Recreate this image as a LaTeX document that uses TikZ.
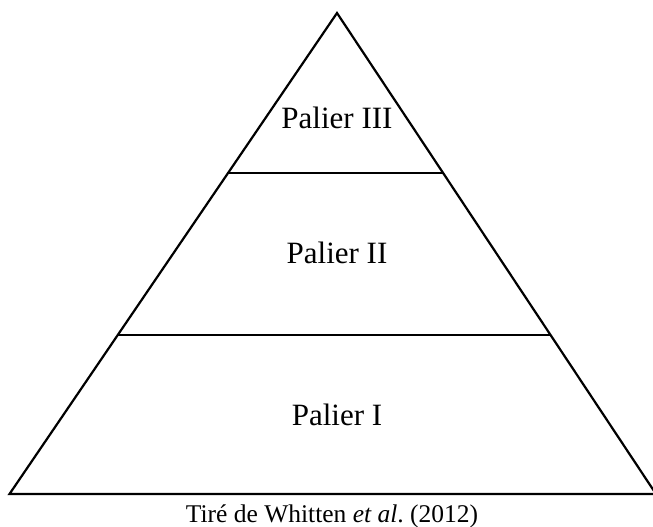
\documentclass[tikz,border=0pt]{standalone}
\usepackage{fontspec}
\setmainfont{Liberation Serif}
\usetikzlibrary{calc}
\begin{document}
\begin{tikzpicture}[x=1pt,y=-1pt,
    edge/.style={draw=black,line width=2.2pt,line join=miter},
    tier/.style={anchor=base,inner sep=0pt,font=\fontsize{31}{36}\selectfont},
    source/.style={anchor=base,inner sep=0pt,font=\fontsize{25.5}{30}\selectfont}]
  \useasboundingbox (0,0) rectangle (653,527);
  % pyramid outline
  \coordinate (apex) at (337,13);
  \coordinate (bl) at (9.5,494);
  \coordinate (br) at (656,494);
  \draw[edge] (apex) -- (br) -- (bl) -- cycle;
  % tier separators
  \coordinate (l3) at ($(apex)!0.3326!(bl)$);
  \coordinate (r3) at ($(apex)!0.3326!(br)$);
  \coordinate (l2) at ($(apex)!0.6694!(bl)$);
  \coordinate (r2) at ($(apex)!0.6694!(br)$);
  \draw[edge] (l3) -- (r3);
  \draw[edge] (l2) -- (r2);
  % tier labels
  \node[tier] (p3) at (337,128) {Palier III};
  \node[tier] (p2) at (337,263) {Palier II};
  \node[tier] (p1) at (337,425) {Palier I};
  % source line
  \node[source] (src) at (332,522) {Tiré de Whitten \textit{et al}.\ (2012)};
\end{tikzpicture}
\end{document}
